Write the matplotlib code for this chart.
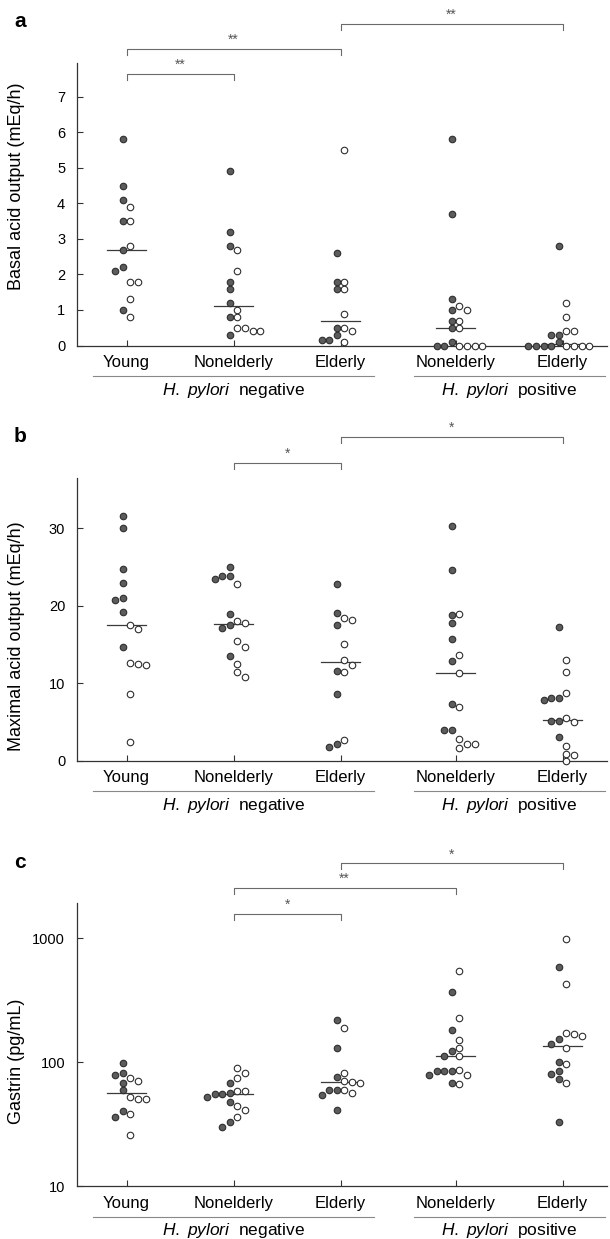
import numpy as np
import matplotlib as mpl

mpl.use("Agg")
import matplotlib.pyplot as plt
from matplotlib.transforms import blended_transform_factory

mpl.rcParams.update(
    {
        "font.family": ["Liberation Sans", "DejaVu Sans"],
        "mathtext.fontset": "custom",
        "mathtext.rm": "Liberation Sans",
        "mathtext.it": "Liberation Sans:italic",
        "axes.linewidth": 0.9,
        "axes.edgecolor": "#333333",
    }
)

GROUPS = ["Young", "Nonelderly", "Elderly", "Nonelderly", "Elderly"]
GROUP_POS = [0, 1, 2, 3.075, 4.075]

# panel a: basal acid output (mEq/h); filled / open circles for each group
BAO_FILLED = [
    [5.8, 4.5, 4.1, 3.5, 2.7, 2.2, 2.1, 1.0],
    [4.9, 3.2, 2.8, 1.8, 1.6, 1.2, 0.8, 0.3],
    [2.6, 1.8, 1.6, 0.5, 0.3, 0.15, 0.15],
    [5.8, 3.7, 1.3, 1.0, 0.7, 0.5, 0.1, 0.0, 0.0],
    [2.8, 0.3, 0.3, 0.1, 0.0, 0.0, 0.0, 0.0],
]
BAO_OPEN = [
    [3.9, 3.5, 2.8, 1.8, 1.8, 1.3, 0.8],
    [2.7, 2.1, 1.0, 0.8, 0.5, 0.5, 0.4, 0.4],
    [5.5, 1.8, 1.6, 0.9, 0.5, 0.4, 0.1],
    [1.1, 1.0, 0.7, 0.5, 0.0, 0.0, 0.0, 0.0],
    [1.2, 0.8, 0.4, 0.4, 0.0, 0.0, 0.0, 0.0],
]
BAO_SIG = [(0, 1, "**"), (0, 2, "**"), (2, 4, "**")]

# panel b: maximal acid output (mEq/h)
MAO_FILLED = [
    [31.6, 30.0, 24.8, 22.9, 21.0, 20.8, 19.2, 14.7],
    [25.0, 23.9, 23.9, 23.5, 18.9, 17.5, 17.1, 13.5],
    [22.8, 19.0, 17.5, 11.6, 8.6, 2.1, 1.8],
    [30.3, 24.6, 18.8, 17.8, 15.7, 12.9, 7.3, 4.0, 3.9],
    [17.2, 8.1, 8.1, 7.8, 5.1, 5.1, 3.0],
]
MAO_OPEN = [
    [17.5, 17.0, 12.6, 12.5, 12.3, 8.6, 2.4],
    [22.8, 18.0, 17.8, 15.4, 14.7, 12.5, 11.5, 10.8],
    [18.4, 18.1, 15.1, 13.0, 12.4, 11.5, 2.7],
    [18.9, 13.6, 11.3, 6.9, 2.8, 2.2, 2.2, 1.6],
    [13.0, 11.5, 8.7, 5.5, 5.0, 1.9, 0.9, 0.8, 0.0],
]
MAO_SIG = [(1, 2, "*"), (2, 4, "*")]

# panel c: gastrin (pg/mL)
GAS_FILLED = [
    [99, 81, 78, 68, 60, 40, 36],
    [68, 56, 55, 55, 52, 48, 33, 30],
    [220, 130, 76, 60, 59, 54, 41],
    [365, 181, 122, 111, 85, 85, 84, 79, 68],
    [580, 153, 141, 101, 85, 80, 73, 33],
]
GAS_OPEN = [
    [74, 71, 52, 50, 50, 38, 26],
    [89, 82, 74, 58, 58, 44, 41, 36],
    [190, 82, 71, 69, 68, 60, 56],
    [539, 228, 151, 131, 111, 87, 78, 66],
    [985, 425, 171, 169, 161, 131, 96, 68],
]
GAS_SIG = [(1, 2, "*"), (1, 3, "**"), (2, 4, "*")]

FILL_C = "#5c5c5c"
EDGE_C = "#2e2e2e"
GRAY = "#6a6a6a"

FIG_W, FIG_H = 610, 1239
DIAM_PX = 6.6
STEP_PX = 7.6


def swarm_x(ax, center, values, side):
    # push points sideways (filled left, open right) until they no longer overlap
    px_x = ax.transData.transform((1, 1))[0] - ax.transData.transform((0, 1))[0]
    ys = [ax.transData.transform((center, max(v, 1e-9)))[1] for v in values]
    placed = []
    xs = []
    for y in ys:
        k = 0
        while True:
            x = side * (0.5 + k) * STEP_PX
            if all((x - px) ** 2 + (y - py) ** 2 >= DIAM_PX ** 2 * 0.95 for px, py in placed):
                break
            k += 1
        placed.append((x, y))
        xs.append(center + x / px_x)
    return xs


def draw_panel(bottom_px, filled, opened, sig, sig_levels, ylim, yticks, ylabel,
               label_y, letter, log=False):
    left, right, top_h = 77, 607, 282.8
    ax = plt.gcf().add_axes(
        [left / FIG_W, 1 - bottom_px / FIG_H, (right - left) / FIG_W, top_h / FIG_H]
    )
    if log:
        ax.set_yscale("log")
    ax.set_xlim(-0.4626, 4.49)
    ax.set_ylim(*ylim)
    ax.minorticks_off()
    ax.set_yticks(yticks)
    ax.set_yticklabels([str(t) for t in yticks])
    ax.set_xticks(GROUP_POS)
    ax.set_xticklabels(GROUPS, fontsize=12)
    ax.tick_params(axis="y", direction="in", length=4.5, width=0.8, labelsize=10.5,
                   pad=8.5, color="#333333")
    ax.tick_params(axis="x", direction="in", length=4, width=0.8, pad=7,
                   color="#333333")
    for s in ("top", "right"):
        ax.spines[s].set_visible(False)

    for pos, fv, ov in zip(GROUP_POS, filled, opened):
        ax.scatter(swarm_x(ax, pos, fv, -1), fv, s=22, c=FILL_C, edgecolors=EDGE_C,
                   linewidths=0.8, zorder=3, clip_on=False)
        ax.scatter(swarm_x(ax, pos, ov, 1), ov, s=22, c="white", edgecolors=EDGE_C,
                   linewidths=0.8, zorder=3, clip_on=False)
        med = np.median(list(fv) + list(ov))
        ax.plot([pos - 0.185, pos + 0.185], [med, med], color="#3a3a3a", lw=0.9,
                zorder=2)

    ax.set_ylabel(ylabel, fontsize=13)
    ax.yaxis.set_label_coords(-0.0985, label_y)

    tr = blended_transform_factory(ax.transData, ax.transAxes)
    tick = 6 / top_h
    for (i, j, star), lev in zip(sig, sig_levels):
        x0, x1 = GROUP_POS[i], GROUP_POS[j]
        ax.plot([x0, x0, x1, x1], [lev - tick, lev, lev, lev - tick], color=GRAY,
                lw=0.8, transform=tr, clip_on=False)
        ax.text((x0 + x1) / 2, lev + 9 / top_h, star, transform=tr, ha="center",
                va="center", fontsize=10, color="#555555")

    # group captions under the category labels
    for x0, x1, xc, txt in [
        (-0.313, 2.31, 1.0, r"$\mathit{H.\ pylori}$  negative"),
        (2.69, 4.47, 3.575, r"$\mathit{H.\ pylori}$  positive"),
    ]:
        ax.plot([x0, x1], [-30.5 / top_h] * 2, color="#888888", lw=0.8,
                transform=tr, clip_on=False)
        ax.text(xc, -44.5 / top_h, txt, transform=tr, ha="center", va="center",
                fontsize=12.5)

    plt.gcf().text(20 / FIG_W, 1 - letter[1] / FIG_H, letter[0], ha="center",
                   va="center", fontsize=15, fontweight="bold")
    return ax


fig = plt.figure(figsize=(FIG_W / 100, FIG_H / 100), dpi=100, facecolor="white")

draw_panel(345.5, BAO_FILLED, BAO_OPEN, BAO_SIG, [0.961, 1.05, 1.138], (0, 7.96),
           list(range(8)), "Basal acid output (mEq/h)", 0.563, ("a", 21.7))
draw_panel(760.7, MAO_FILLED, MAO_OPEN, MAO_SIG, [1.053, 1.145], (0, 36.5),
           [0, 10, 20, 30], "Maximal acid output (mEq/h)", 0.44, ("b", 436.7))
draw_panel(1186, GAS_FILLED, GAS_OPEN, GAS_SIG, [0.961, 1.053, 1.141], (10, 1914),
           [10, 100, 1000], "Gastrin (pg/mL)", 0.44, ("c", 863), log=True)

fig.savefig("out.png", dpi=100, facecolor="white")
